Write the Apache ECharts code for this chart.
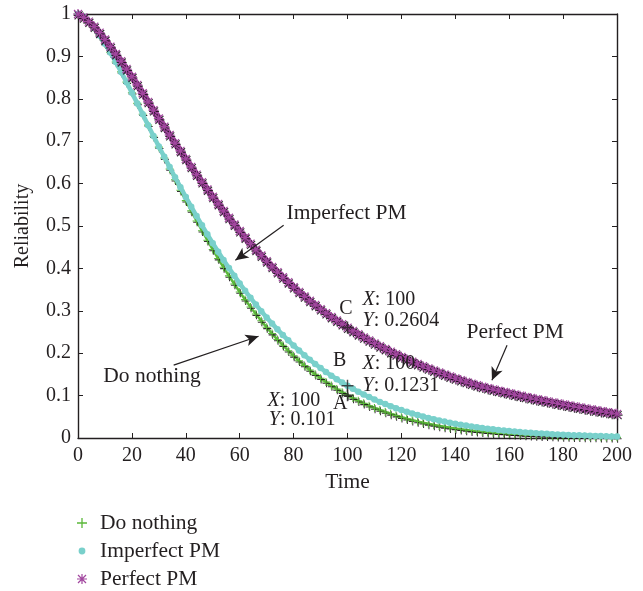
<!DOCTYPE html>
<html>
<head>
<meta charset="utf-8">
<script src="https://cdn.jsdelivr.net/npm/echarts@6/dist/echarts.min.js"></script>
<style>
  html, body { margin: 0; padding: 0; background: #ffffff; }
  #chart { width: 643px; height: 591px; }
</style>
</head>
<body>
<div id="chart"></div>
<script>
// Time grid (every 2 time units)
const time = [
  0, 2, 4, 6, 8, 10, 12, 14, 16, 18, 20, 22, 24, 26, 28, 30, 32, 34, 36, 38,
  40, 42, 44, 46, 48, 50, 52, 54, 56, 58, 60, 62, 64, 66, 68, 70, 72, 74, 76, 78,
  80, 82, 84, 86, 88, 90, 92, 94, 96, 98, 100, 102, 104, 106, 108, 110, 112, 114, 116, 118,
  120, 122, 124, 126, 128, 130, 132, 134, 136, 138, 140, 142, 144, 146, 148, 150, 152, 154, 156, 158,
  160, 162, 164, 166, 168, 170, 172, 174, 176, 178, 180, 182, 184, 186, 188, 190, 192, 194, 196, 198, 200
];

// Reliability without maintenance
const doNothing = [
  1.0000, 0.9935, 0.9818, 0.9668, 0.9494, 0.9300, 0.9091, 0.8868, 0.8635, 0.8393,
  0.8145, 0.7892, 0.7636, 0.7379, 0.7119, 0.6860, 0.6602, 0.6346, 0.6093, 0.5843,
  0.5598, 0.5357, 0.5120, 0.4889, 0.4664, 0.4445, 0.4232, 0.4025, 0.3824, 0.3631,
  0.3444, 0.3264, 0.3090, 0.2923, 0.2763, 0.2610, 0.2463, 0.2322, 0.2188, 0.2060,
  0.1938, 0.1821, 0.1710, 0.1605, 0.1506, 0.1411, 0.1321, 0.1237, 0.1156, 0.1081,
  0.1010, 0.0942, 0.0878, 0.0818, 0.0762, 0.0709, 0.0660, 0.0613, 0.0570, 0.0529,
  0.0491, 0.0455, 0.0421, 0.0390, 0.0361, 0.0334, 0.0309, 0.0285, 0.0263, 0.0243,
  0.0224, 0.0206, 0.0190, 0.0175, 0.0161, 0.0148, 0.0136, 0.0125, 0.0115, 0.0105,
  0.0096, 0.0088, 0.0081, 0.0074, 0.0068, 0.0062, 0.0057, 0.0052, 0.0047, 0.0043,
  0.0039, 0.0036, 0.0033, 0.0030, 0.0027, 0.0025, 0.0022, 0.0020, 0.0019, 0.0017, 0.0015
];

// Reliability with imperfect preventive maintenance
const imperfectPM = [
  1.0000, 0.9935, 0.9818, 0.9668, 0.9494, 0.9300, 0.9091, 0.8868, 0.8635, 0.8393,
  0.8145, 0.7892, 0.7636, 0.7379, 0.7121, 0.6876, 0.6632, 0.6390, 0.6151, 0.5916,
  0.5684, 0.5456, 0.5234, 0.5015, 0.4803, 0.4596, 0.4394, 0.4199, 0.4008, 0.3824,
  0.3646, 0.3473, 0.3307, 0.3146, 0.2992, 0.2843, 0.2700, 0.2562, 0.2430, 0.2303,
  0.2181, 0.2066, 0.1954, 0.1848, 0.1746, 0.1650, 0.1557, 0.1470, 0.1386, 0.1307,
  0.1231, 0.1159, 0.1091, 0.1026, 0.0965, 0.0907, 0.0852, 0.0800, 0.0750, 0.0704,
  0.0660, 0.0618, 0.0579, 0.0542, 0.0507, 0.0474, 0.0444, 0.0414, 0.0387, 0.0361,
  0.0337, 0.0315, 0.0294, 0.0274, 0.0255, 0.0237, 0.0221, 0.0206, 0.0191, 0.0178,
  0.0165, 0.0154, 0.0143, 0.0132, 0.0123, 0.0114, 0.0106, 0.0098, 0.0091, 0.0084,
  0.0078, 0.0072, 0.0067, 0.0062, 0.0057, 0.0053, 0.0049, 0.0045, 0.0042, 0.0038, 0.0035
];

// Reliability with perfect preventive maintenance
const perfectPM = [
  1.0000, 0.9920, 0.9822, 0.9704, 0.9560, 0.9399, 0.9231, 0.9057, 0.8887, 0.8702,
  0.8521, 0.8328, 0.8130, 0.7929, 0.7733, 0.7535, 0.7342, 0.7146, 0.6956, 0.6771,
  0.6584, 0.6395, 0.6212, 0.6035, 0.5863, 0.5689, 0.5521, 0.5358, 0.5194, 0.5036,
  0.4882, 0.4729, 0.4584, 0.4440, 0.4304, 0.4169, 0.4037, 0.3914, 0.3791, 0.3675,
  0.3560, 0.3447, 0.3342, 0.3237, 0.3138, 0.3039, 0.2946, 0.2854, 0.2772, 0.2687,
  0.2604, 0.2525, 0.2449, 0.2375, 0.2303, 0.2233, 0.2166, 0.2100, 0.2037, 0.1975,
  0.1915, 0.1857, 0.1801, 0.1747, 0.1694, 0.1642, 0.1593, 0.1545, 0.1498, 0.1452,
  0.1408, 0.1366, 0.1324, 0.1284, 0.1246, 0.1208, 0.1176, 0.1145, 0.1115, 0.1085,
  0.1055, 0.1027, 0.0998, 0.0970, 0.0943, 0.0915, 0.0890, 0.0865, 0.0840, 0.0815,
  0.0790, 0.0767, 0.0744, 0.0721, 0.0698, 0.0675, 0.0654, 0.0633, 0.0612, 0.0591, 0.0570
];

const seriesNames = ['Do nothing', 'Imperfect PM', 'Perfect PM'];

// Data tips at t = 100
const tipTags = ['A', 'B', 'C'];
const tipX = [100, 100, 100];
const tipY = [0.101, 0.1231, 0.2604];

// Axis ticks
const xTicks = [0, 20, 40, 60, 80, 100, 120, 140, 160, 180, 200];
const yTicks = [0, 0.1, 0.2, 0.3, 0.4, 0.5, 0.6, 0.7, 0.8, 0.9, 1];

const FONT = 'Liberation Serif';
const INK = '#231f20';
const GREEN = '#5bb83a';
const CYAN = '#79d0cb';
const PURPLE = '#a2479f';
const WORD_SIZE = 21.5;
const NUM_SIZE = 20;

// Marker shapes
const PLUS = 'path://M4.35,0h1.3v4.35h4.35v1.3h-4.35v4.35h-1.3v-4.35h-4.35v-1.3h4.35z';
const STAR = 'path://M4.4,0h1.2v10h-1.2z M0,4.4h10v1.2h-10z ' +
  'M1.42,0.58L9.42,8.58L8.58,9.42L0.58,1.42z M8.58,0.58L9.42,1.42L1.42,9.42L0.58,8.58z';
const DOT_ICON = 'path://M0,0M10,10M1.6,5A3.4,3.4,0,1,1,8.4,5A3.4,3.4,0,1,1,1.6,5z';
const TIP_PLUS = 'path://M4.4,0h1.2v4.4h4.4v1.2h-4.4v4.4h-1.2v-4.4h-4.4v-1.2h4.4z';

const pairs = (ys) => time.map((t, i) => [t, ys[i]]);

// Text annotations placed in data coordinates
const italic = { fontStyle: 'italic', fontFamily: FONT, fontSize: NUM_SIZE, color: INK };
const txt = (coord, text, position, size) => ({
  coord: coord,
  name: text,
  label: { position: position || 'right', distance: 0, fontSize: size || NUM_SIZE }
});
const tipXText = (k) => '{i|X}: ' + tipX[k];
const tipYText = (k) => '{i|Y}: ' + tipY[k];

const annotations = [
  txt([77.2, 0.530], seriesNames[1], 'right', WORD_SIZE),
  txt([9.2, 0.146], seriesNames[0], 'right', WORD_SIZE),
  txt([144.0, 0.250], seriesNames[2], 'right', WORD_SIZE),
  txt([99.4, 0.306], tipTags[2], 'inside'),
  txt([105.4, 0.325], tipXText(2)),
  txt([105.4, 0.276], tipYText(2)),
  txt([97.1, 0.183], tipTags[1], 'inside'),
  txt([105.4, 0.176], tipXText(1)),
  txt([105.4, 0.124], tipYText(1)),
  txt([97.3, 0.080], tipTags[0], 'inside'),
  txt([70.1, 0.089], tipXText(0)),
  txt([70.6, 0.042], tipYText(0))
];

// Arrows pointing at the curves
const arrows = [
  [{ coord: [76.3, 0.502] }, { coord: [58.4, 0.419] }],
  [{ coord: [35.5, 0.172] }, { coord: [67.0, 0.240] }],
  [{ coord: [159.2, 0.219] }, { coord: [153.6, 0.136] }]
];

const axisCommon = {
  type: 'value',
  axisLine: { show: true, onZero: false, lineStyle: { color: INK, width: 1.4 } },
  axisTick: { show: true, inside: true, length: 5, lineStyle: { color: INK, width: 1 } },
  splitLine: { show: false }
};

const speckle = { shadowColor: 'rgba(20,10,20,0.85)', shadowOffsetX: 0.6, shadowOffsetY: 1.3, shadowBlur: 0 };

const chart = echarts.init(document.getElementById('chart'), null, { renderer: 'canvas' });

chart.setOption({
  animation: false,
  backgroundColor: '#ffffff',
  textStyle: { fontFamily: FONT },
  grid: { left: 78, right: 26, top: 14, bottom: 153, containLabel: false },
  xAxis: [
    Object.assign({}, axisCommon, {
      position: 'bottom',
      min: xTicks[0], max: xTicks[xTicks.length - 1], interval: xTicks[1] - xTicks[0],
      name: 'Time', nameLocation: 'middle', nameGap: 33,
      nameTextStyle: { fontFamily: FONT, fontSize: WORD_SIZE, color: INK },
      axisLabel: { fontFamily: FONT, fontSize: NUM_SIZE, color: INK, margin: 8 }
    }),
    Object.assign({}, axisCommon, {
      position: 'top',
      min: xTicks[0], max: xTicks[xTicks.length - 1], interval: xTicks[1] - xTicks[0],
      axisLabel: { show: false }
    })
  ],
  yAxis: [
    Object.assign({}, axisCommon, {
      position: 'left',
      min: yTicks[0], max: yTicks[yTicks.length - 1], interval: 0.1,
      name: 'Reliability', nameLocation: 'middle', nameGap: 45,
      nameTextStyle: { fontFamily: FONT, fontSize: NUM_SIZE, color: INK },
      axisLabel: { fontFamily: FONT, fontSize: NUM_SIZE, color: INK, margin: 7,
        formatter: (v) => String(Math.round(v * 10) / 10) }
    }),
    Object.assign({}, axisCommon, {
      position: 'right',
      min: yTicks[0], max: yTicks[yTicks.length - 1], interval: 0.1,
      axisLabel: { show: false }
    })
  ],
  legend: {
    orient: 'vertical',
    left: 77,
    top: 512,
    height: 120,
    padding: 0,
    itemWidth: 26,
    itemHeight: 10,
    itemGap: 6,
    selectedMode: false,
    textStyle: { fontFamily: FONT, fontSize: WORD_SIZE, color: INK },
    data: [
      { name: seriesNames[0], icon: PLUS, itemStyle: { color: GREEN } },
      { name: seriesNames[1], icon: DOT_ICON, itemStyle: { color: CYAN } },
      { name: seriesNames[2], icon: STAR, itemStyle: { color: PURPLE } }
    ]
  },
  series: [
    {
      name: seriesNames[0],
      type: 'line',
      data: pairs(doNothing),
      showSymbol: true,
      symbol: PLUS,
      symbolSize: 8,
      itemStyle: Object.assign({ color: GREEN }, speckle),
      lineStyle: { color: GREEN, width: 2.5 },
      clip: false,
      z: 2
    },
    {
      name: seriesNames[1],
      type: 'line',
      data: pairs(imperfectPM),
      showSymbol: true,
      symbol: 'circle',
      symbolSize: 6.5,
      itemStyle: { color: CYAN },
      lineStyle: { color: CYAN, width: 4.5 },
      clip: false,
      z: 3
    },
    {
      name: seriesNames[2],
      type: 'line',
      data: pairs(perfectPM),
      showSymbol: true,
      symbol: STAR,
      symbolSize: 10,
      itemStyle: Object.assign({ color: PURPLE }, speckle),
      lineStyle: { color: PURPLE, width: 6.5 },
      clip: false,
      z: 4
    },
    {
      name: 'tips',
      type: 'scatter',
      data: tipX.map((x, k) => [x, tipY[k]]),
      symbol: TIP_PLUS,
      symbolSize: 12,
      itemStyle: { color: INK },
      z: 6,
      silent: true,
      markPoint: {
        silent: true,
        symbol: 'circle',
        symbolSize: 1,
        itemStyle: { color: 'transparent' },
        label: {
          show: true,
          fontFamily: FONT,
          fontSize: NUM_SIZE,
          color: INK,
          formatter: (p) => p.name,
          rich: { i: italic }
        },
        data: annotations
      },
      markLine: {
        silent: true,
        symbol: ['none', 'arrow'],
        symbolSize: [9, 13],
        label: { show: false },
        lineStyle: { color: INK, width: 1.2, type: 'solid' },
        emphasis: { disabled: true },
        data: arrows
      }
    }
  ]
});
</script>
</body>
</html>
